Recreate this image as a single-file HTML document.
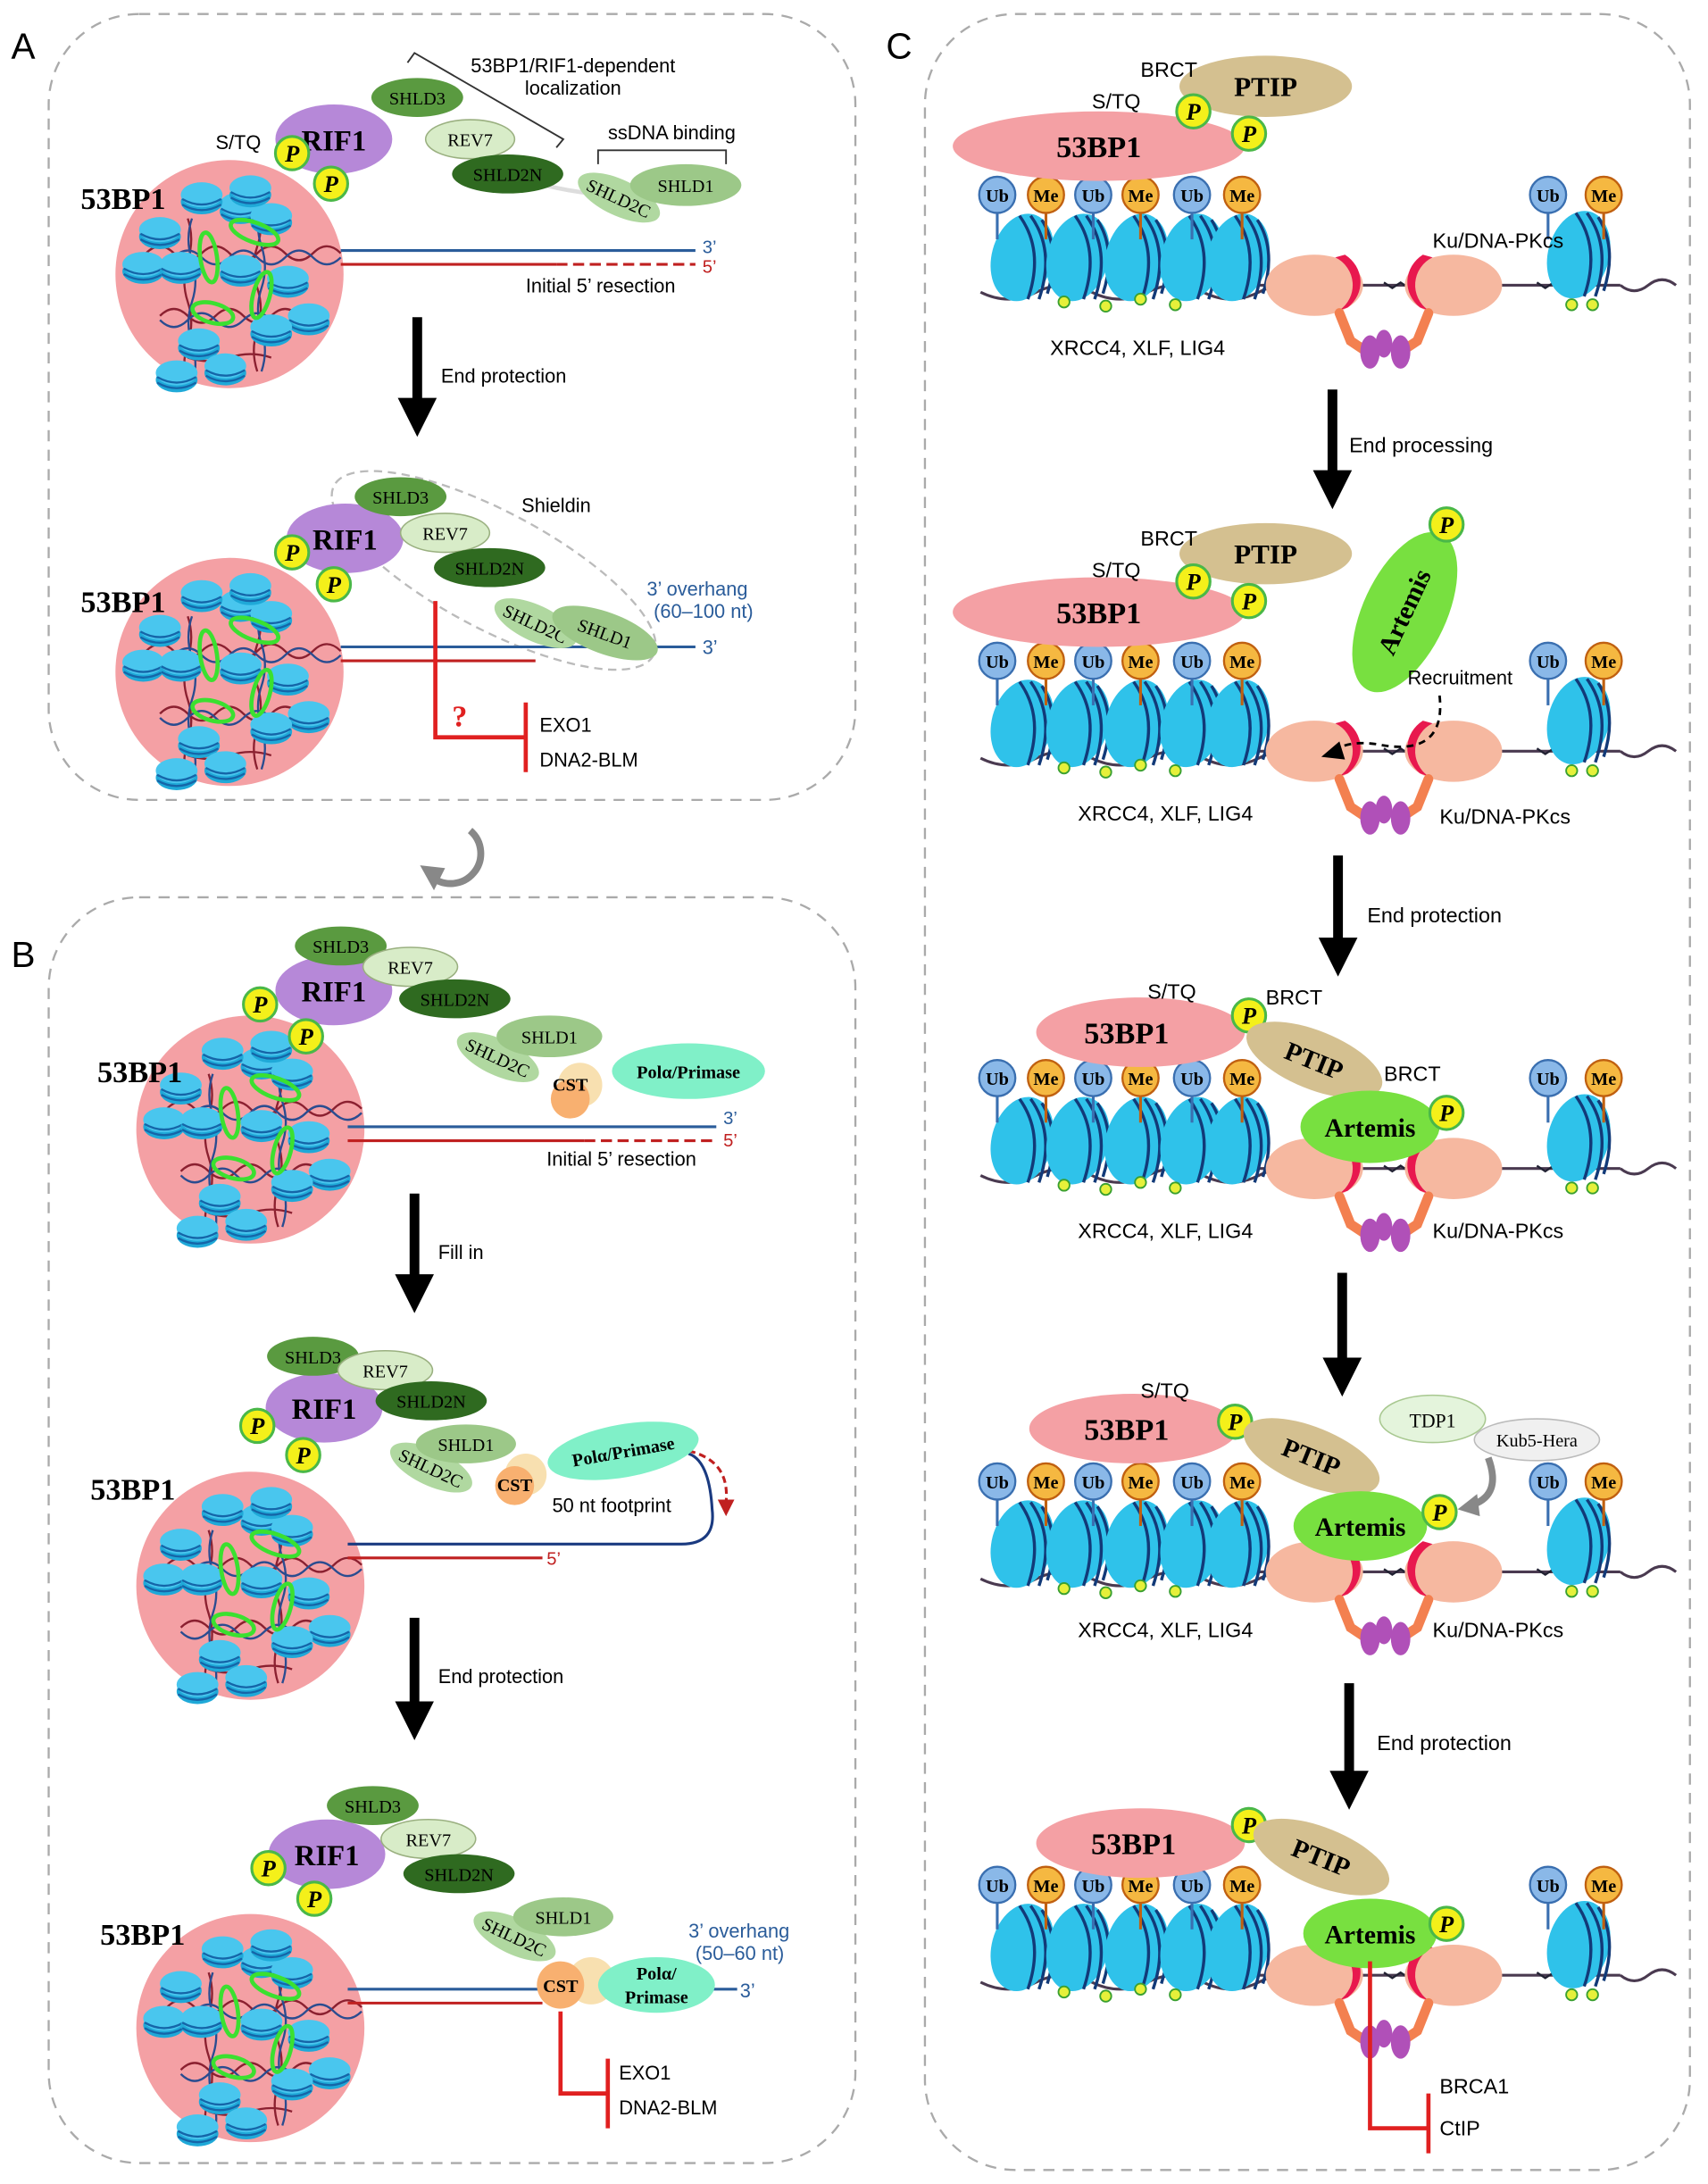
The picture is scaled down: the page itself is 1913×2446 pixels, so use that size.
<!DOCTYPE html>
<html><head><meta charset="utf-8"><style>
html,body{margin:0;padding:0;background:#fff}
svg{display:block}
text{font-family:"Liberation Sans",sans-serif}
.s{font-family:"Liberation Serif",serif}
</style></head><body>
<svg width="1913" height="2446" viewBox="0 0 1228 1570" xmlns="http://www.w3.org/2000/svg">
<defs>
<g id="nu">
 <ellipse cx="0" cy="3" rx="15" ry="9" fill="#1fa9d8"/>
 <ellipse cx="0" cy="-2" rx="15" ry="9" fill="#49c6ee"/>
 <path d="M-14,1 Q0,9 14,1 M-14,5 Q0,13 14,5" stroke="#1565a8" stroke-width="1.5" fill="none"/>
</g>
<g id="cl">
 <circle r="82" fill="#f4a0a4"/>
 <path d="M-60,-15 q10,-10 20,0 t20,0 t20,0 t20,0 t20,0 t20,0 t20,0 M-50,30 q10,-10 20,0 t20,0 t20,0 t20,0 t20,0 M-30,-40 q5,15 0,30 t0,30 t0,30 t0,30 M20,-50 q5,15 0,30 t0,30 t0,30 t0,30 M-30,60 q15,5 30,0 t30,0" stroke="#8b2030" stroke-width="1.5" fill="none"/>
 <path d="M-60,-12 q10,10 20,0 t20,0 t20,0 t20,0 t20,0 t20,0 t20,0 M-50,33 q10,10 20,0 t20,0 t20,0 t20,0 t20,0 M-27,-40 q-5,15 0,30 t0,30 t0,30 t0,30 M23,-50 q-5,15 0,30 t0,30 t0,30 t0,30" stroke="#2a4c90" stroke-width="1.5" fill="none"/>
 <use href="#nu" x="8" y="-48"/>
 <use href="#nu" x="-20" y="-55"/>
 <use href="#nu" x="30" y="-40"/>
 <use href="#nu" x="-50" y="-30"/>
 <use href="#nu" x="-62" y="-5"/>
 <use href="#nu" x="-35" y="-5"/>
 <use href="#nu" x="8" y="-3"/>
 <use href="#nu" x="42" y="5"/>
 <use href="#nu" x="57" y="32"/>
 <use href="#nu" x="30" y="40"/>
 <use href="#nu" x="-22" y="50"/>
 <use href="#nu" x="-38" y="73"/>
 <use href="#nu" x="-3" y="68"/>
 <use href="#nu" x="15" y="-60"/>
 <ellipse cx="-15" cy="-12" rx="6" ry="18" fill="none" stroke="#3be030" stroke-width="3" transform="rotate(-8 -15 -12)"/>
 <ellipse cx="18" cy="-30" rx="18" ry="7" fill="none" stroke="#3be030" stroke-width="3" transform="rotate(20 18 -30)"/>
 <ellipse cx="-12" cy="28" rx="15" ry="7" fill="none" stroke="#3be030" stroke-width="3" transform="rotate(15 -12 28)"/>
 <ellipse cx="23" cy="15" rx="6" ry="17" fill="none" stroke="#3be030" stroke-width="3" transform="rotate(15 23 15)"/>
</g>
<g id="P"><circle r="12" fill="#f4f01a" stroke="#4ab848" stroke-width="2"/><text y="6" text-anchor="middle" class="s" font-size="17" font-weight="bold" font-style="italic">P</text></g>
<g id="Ub"><line x1="0" y1="12" x2="0" y2="32" stroke="#3a6fb0" stroke-width="2"/><circle r="13" fill="#8ab8e8" stroke="#3a6fb0" stroke-width="1.5"/><text y="5" text-anchor="middle" class="s" font-size="13" font-weight="bold">Ub</text></g>
<g id="Me"><line x1="0" y1="12" x2="0" y2="32" stroke="#c06010" stroke-width="2"/><circle r="13" fill="#f5b841" stroke="#c06010" stroke-width="1.5"/><text y="5" text-anchor="middle" class="s" font-size="13" font-weight="bold">Me</text></g>
<g id="bn">
 <ellipse rx="22" ry="32" fill="#2fc2ea" transform="rotate(15)"/>
 <path d="M-2,-30 Q16,-5 4,30 M6,-30 Q24,-5 12,30 M14,-27 Q28,-5 18,26" stroke="#123a78" stroke-width="2.2" fill="none"/>
</g>
<g id="crow">
 <path d="M0,5 q20,10 40,0 t40,0 t40,0 t40,0 t40,0 t40,0 M200,0 L460,0 M460,0 q10,8 20,0 t20,0" stroke="#4a3a50" stroke-width="2" fill="none"/>
 <path d="M215,-2 l6,4 l6,-4 l6,4 l6,-4 l6,4 M290,-2 l6,4 l6,-4 l6,4 l6,-4 M400,-2 l6,4 l6,-4 l6,4 l6,-4 l6,4" stroke="#223" stroke-width="1.5" fill="none"/>
 <use href="#bn" x="30" y="-20"/><use href="#bn" x="70" y="-20"/><use href="#bn" x="112" y="-20"/><use href="#bn" x="152" y="-20"/><use href="#bn" x="185" y="-20"/>
 <use href="#bn" x="430" y="-22"/>
 <use href="#Ub" x="12" y="-65"/><use href="#Me" x="47" y="-65"/><use href="#Ub" x="81" y="-65"/><use href="#Me" x="115" y="-65"/><use href="#Ub" x="152" y="-65"/><use href="#Me" x="188" y="-65"/>
 <use href="#Ub" x="408" y="-65"/><use href="#Me" x="448" y="-65"/>
 <g fill="#e6f03a" stroke="#3aa030" stroke-width="1.2"><circle cx="60" cy="12" r="4"/><circle cx="90" cy="15" r="4"/><circle cx="115" cy="10" r="4"/><circle cx="140" cy="14" r="4"/><circle cx="425" cy="14" r="4"/><circle cx="440" cy="14" r="4"/></g>
 <ellipse cx="240" cy="0" rx="35" ry="22" fill="#f6b8a0"/>
 <ellipse cx="340" cy="0" rx="35" ry="22" fill="#f6b8a0"/>
 <path d="M255,-20 A22,22 0 0 1 258,18 L264,16 A26,24 0 0 0 262,-22 Z" fill="#e8184e"/>
 <path d="M325,-20 A22,22 0 0 0 322,18 L316,16 A26,24 0 0 1 318,-22 Z" fill="#e8184e"/>
 <path d="M258,20 l8,20 l15,10 M322,20 l-8,20 l-15,10" stroke="#f38050" stroke-width="7" fill="none" stroke-linecap="round"/>
 <ellipse cx="280" cy="48" rx="7" ry="12" fill="#b050b8"/><ellipse cx="290" cy="42" rx="6" ry="10" fill="#b050b8"/>
 <ellipse cx="302" cy="48" rx="7" ry="12" fill="#b050b8"/>
</g>
<marker id="ah" viewBox="0 0 10 10" refX="5" refY="5" markerWidth="4" markerHeight="4" orient="auto"><path d="M0,0 L10,5 L0,10 Z" fill="#000"/></marker>
</defs>

<g fill="none" stroke="#aaa" stroke-width="1.5" stroke-dasharray="8,6">
 <rect x="35" y="10" width="580" height="565" rx="65"/>
 <rect x="35" y="645" width="580" height="910" rx="65"/>
 <rect x="665" y="10" width="550" height="1550" rx="65"/>
</g>
<text x="8" y="42" font-size="26">A</text>
<text x="8" y="695" font-size="26">B</text>
<text x="637" y="42" font-size="26">C</text>

<!-- A1 -->
<use href="#cl" x="165" y="197"/>
<text x="58" y="150" class="s" font-size="22" font-weight="bold">53BP1</text>
<text x="155" y="107" font-size="14">S/TQ</text>
<path d="M245,180 H500" stroke="#2a5c9a" stroke-width="2"/>
<path d="M245,190 H400" stroke="#c02020" stroke-width="2"/>
<path d="M400,190 H500" stroke="#c02020" stroke-width="2" stroke-dasharray="8,4"/>
<text x="505" y="182" font-size="13" fill="#2a5c9a">3’</text>
<text x="505" y="196" font-size="13" fill="#c02020">5’</text>
<text x="378" y="210" font-size="14">Initial 5’ resection</text>
<path d="M380,130 Q450,150 500,130" stroke="#ddd" stroke-width="3" fill="none"/>
<ellipse cx="240" cy="100" rx="42" ry="25" fill="#b688d8"/><text x="240" y="108" text-anchor="middle" class="s" font-size="21" font-weight="bold">RIF1</text>
<use href="#P" x="210" y="110"/><use href="#P" x="238" y="132"/>
<ellipse cx="300" cy="70" rx="33" ry="14" fill="#5a9a40"/><text x="300" y="75" text-anchor="middle" class="s" font-size="13">SHLD3</text>
<ellipse cx="338" cy="100" rx="32" ry="14" fill="#d8ecc8" stroke="#9ab080"/><text x="338" y="105" text-anchor="middle" class="s" font-size="13">REV7</text>
<ellipse cx="365" cy="125" rx="40" ry="14" fill="#2f6a20"/><text x="365" y="130" text-anchor="middle" class="s" font-size="13">SHLD2N</text>
<ellipse cx="445" cy="142" rx="32" ry="13" fill="#b0d8a0" transform="rotate(25 445 142)"/><text x="445" y="147" text-anchor="middle" class="s" font-size="13" transform="rotate(25 445 142)">SHLD2C</text>
<ellipse cx="493" cy="133" rx="40" ry="15" fill="#9cc888"/><text x="493" y="138" text-anchor="middle" class="s" font-size="13">SHLD1</text>
<path d="M293,45 L298,38 L405,100 L400,106" stroke="#333" stroke-width="1.2" fill="none"/>
<text x="412" y="52" text-anchor="middle" font-size="14">53BP1/RIF1-dependent</text>
<text x="412" y="68" text-anchor="middle" font-size="14">localization</text>
<text x="483" y="100" text-anchor="middle" font-size="14">ssDNA binding</text>
<path d="M430,118 V108 H522 V118" stroke="#333" stroke-width="1.2" fill="none"/>
<line x1="300" y1="228" x2="300" y2="300" stroke="#000" stroke-width="7" marker-end="url(#ah)"/>
<text x="317" y="275" font-size="14">End protection</text>

<!-- A2 -->
<use href="#cl" x="165" y="483"/>
<text x="58" y="440" class="s" font-size="22" font-weight="bold">53BP1</text>
<ellipse cx="355" cy="410" rx="130" ry="42" fill="none" stroke="#bbb" stroke-width="1.5" stroke-dasharray="6,4" transform="rotate(28 355 410)"/>
<path d="M245,465 H500" stroke="#2a5c9a" stroke-width="2"/>
<path d="M245,475 H385" stroke="#c02020" stroke-width="2"/>
<text x="505" y="470" font-size="14" fill="#2a5c9a">3’</text>
<text x="465" y="428" font-size="14" fill="#2a5c9a">3’ overhang</text>
<text x="470" y="444" font-size="14" fill="#2a5c9a">(60–100 nt)</text>
<ellipse cx="248" cy="387" rx="42" ry="25" fill="#b688d8"/><text x="248" y="395" text-anchor="middle" class="s" font-size="21" font-weight="bold">RIF1</text>
<use href="#P" x="210" y="397"/><use href="#P" x="240" y="420"/>
<ellipse cx="288" cy="357" rx="33" ry="14" fill="#5a9a40"/><text x="288" y="362" text-anchor="middle" class="s" font-size="13">SHLD3</text>
<ellipse cx="320" cy="383" rx="32" ry="14" fill="#d8ecc8" stroke="#9ab080"/><text x="320" y="388" text-anchor="middle" class="s" font-size="13">REV7</text>
<ellipse cx="352" cy="408" rx="40" ry="14" fill="#2f6a20"/><text x="352" y="413" text-anchor="middle" class="s" font-size="13">SHLD2N</text>
<ellipse cx="385" cy="448" rx="32" ry="13" fill="#b0d8a0" transform="rotate(25 385 448)"/><text x="385" y="453" text-anchor="middle" class="s" font-size="13" transform="rotate(25 385 448)">SHLD2C</text>
<ellipse cx="435" cy="455" rx="40" ry="15" fill="#9cc888" transform="rotate(20 435 455)"/><text x="435" y="460" text-anchor="middle" class="s" font-size="13" transform="rotate(20 435 455)">SHLD1</text>
<text x="375" y="368" font-size="14">Shieldin</text>
<path d="M313,432 V530 H378 M378,505 V555" stroke="#e02020" stroke-width="3" fill="none"/>
<text x="325" y="522" class="s" font-size="22" font-weight="bold" fill="#e02020">?</text>
<text x="388" y="526" font-size="14">EXO1</text>
<text x="388" y="551" font-size="14">DNA2-BLM</text>
<path d="M338,597 A18,18 0 1 1 310,630" stroke="#888" stroke-width="5" fill="none"/>
<path d="M302,622 L312,640 L320,624 Z" fill="#888"/>

<!-- B1 -->
<use href="#cl" x="180" y="812"/>
<text x="70" y="778" class="s" font-size="22" font-weight="bold">53BP1</text>
<path d="M250,810 H515" stroke="#2a5c9a" stroke-width="2"/>
<path d="M250,820 H420" stroke="#c02020" stroke-width="2"/>
<path d="M420,820 H515" stroke="#c02020" stroke-width="2" stroke-dasharray="8,4"/>
<text x="520" y="808" font-size="13" fill="#2a5c9a">3’</text>
<text x="520" y="824" font-size="13" fill="#c02020">5’</text>
<text x="393" y="838" font-size="14">Initial 5’ resection</text>
<ellipse cx="240" cy="712" rx="42" ry="25" fill="#b688d8"/><text x="240" y="720" text-anchor="middle" class="s" font-size="21" font-weight="bold">RIF1</text>
<use href="#P" x="187" y="722"/><use href="#P" x="220" y="745"/>
<ellipse cx="245" cy="680" rx="33" ry="14" fill="#5a9a40"/><text x="245" y="685" text-anchor="middle" class="s" font-size="13">SHLD3</text>
<ellipse cx="295" cy="695" rx="34" ry="14" fill="#d8ecc8" stroke="#9ab080"/><text x="295" y="700" text-anchor="middle" class="s" font-size="13">REV7</text>
<ellipse cx="327" cy="718" rx="40" ry="14" fill="#2f6a20"/><text x="327" y="723" text-anchor="middle" class="s" font-size="13">SHLD2N</text>
<ellipse cx="358" cy="760" rx="32" ry="13" fill="#b0d8a0" transform="rotate(25 358 760)"/><text x="358" y="765" text-anchor="middle" class="s" font-size="13" transform="rotate(25 358 760)">SHLD2C</text>
<ellipse cx="395" cy="745" rx="38" ry="15" fill="#9cc888"/><text x="395" y="750" text-anchor="middle" class="s" font-size="13">SHLD1</text>
<circle cx="417" cy="780" r="16" fill="#f8e0b0"/><circle cx="410" cy="790" r="14" fill="#f8b070"/><text x="410" y="784" text-anchor="middle" class="s" font-size="13" font-weight="bold">CST</text>
<ellipse cx="495" cy="770" rx="55" ry="20" fill="#80f0c8"/><text x="495" y="775" text-anchor="middle" class="s" font-size="13" font-weight="bold">Polα/Primase</text>
<line x1="298" y1="858" x2="298" y2="930" stroke="#000" stroke-width="7" marker-end="url(#ah)"/>
<text x="315" y="905" font-size="14">Fill in</text>

<!-- B2 -->
<use href="#cl" x="180" y="1140"/>
<text x="65" y="1078" class="s" font-size="22" font-weight="bold">53BP1</text>
<path d="M250,1110 H490 Q515,1110 512,1085 Q510,1050 495,1045" stroke="#1a3a80" stroke-width="2" fill="none"/>
<path d="M250,1120 H390" stroke="#c02020" stroke-width="2"/>
<text x="393" y="1125" font-size="13" fill="#c02020">5’</text>
<path d="M495,1043 Q525,1050 522,1080" stroke="#c02020" stroke-width="2" stroke-dasharray="5,3" fill="none"/>
<path d="M516,1078 L522,1090 L528,1078Z" fill="#c02020"/>
<ellipse cx="233" cy="1012" rx="42" ry="25" fill="#b688d8"/><text x="233" y="1020" text-anchor="middle" class="s" font-size="21" font-weight="bold">RIF1</text>
<use href="#P" x="185" y="1025"/><use href="#P" x="218" y="1046"/>
<ellipse cx="225" cy="975" rx="33" ry="14" fill="#5a9a40"/><text x="225" y="980" text-anchor="middle" class="s" font-size="13">SHLD3</text>
<ellipse cx="277" cy="985" rx="34" ry="14" fill="#d8ecc8" stroke="#9ab080"/><text x="277" y="990" text-anchor="middle" class="s" font-size="13">REV7</text>
<ellipse cx="310" cy="1007" rx="40" ry="14" fill="#2f6a20"/><text x="310" y="1012" text-anchor="middle" class="s" font-size="13">SHLD2N</text>
<ellipse cx="310" cy="1055" rx="32" ry="13" fill="#b0d8a0" transform="rotate(25 310 1055)"/><text x="310" y="1060" text-anchor="middle" class="s" font-size="13" transform="rotate(25 310 1055)">SHLD2C</text>
<ellipse cx="335" cy="1038" rx="36" ry="14" fill="#9cc888"/><text x="335" y="1043" text-anchor="middle" class="s" font-size="13">SHLD1</text>
<circle cx="378" cy="1060" r="15" fill="#f8e0b0"/><circle cx="370" cy="1068" r="14" fill="#f8b070"/><text x="370" y="1072" text-anchor="middle" class="s" font-size="13" font-weight="bold">CST</text>
<ellipse cx="448" cy="1043" rx="55" ry="19" fill="#80f0c8" transform="rotate(-10 448 1043)"/><text x="448" y="1048" text-anchor="middle" class="s" font-size="13" font-weight="bold" transform="rotate(-10 448 1043)">Polα/Primase</text>
<text x="397" y="1087" font-size="14">50 nt footprint</text>
<line x1="298" y1="1163" x2="298" y2="1237" stroke="#000" stroke-width="7" marker-end="url(#ah)"/>
<text x="315" y="1210" font-size="14">End protection</text>

<!-- B3 -->
<use href="#cl" x="180" y="1458"/>
<text x="72" y="1398" class="s" font-size="22" font-weight="bold">53BP1</text>
<path d="M250,1430 H530" stroke="#2a5c9a" stroke-width="2"/>
<path d="M250,1440 H390" stroke="#c02020" stroke-width="2"/>
<text x="532" y="1436" font-size="14" fill="#2a5c9a">3’</text>
<text x="495" y="1393" font-size="14" fill="#2a5c9a">3’ overhang</text>
<text x="500" y="1409" font-size="14" fill="#2a5c9a">(50–60 nt)</text>
<ellipse cx="235" cy="1333" rx="42" ry="25" fill="#b688d8"/><text x="235" y="1341" text-anchor="middle" class="s" font-size="21" font-weight="bold">RIF1</text>
<use href="#P" x="193" y="1343"/><use href="#P" x="226" y="1365"/>
<ellipse cx="268" cy="1298" rx="33" ry="14" fill="#5a9a40"/><text x="268" y="1303" text-anchor="middle" class="s" font-size="13">SHLD3</text>
<ellipse cx="308" cy="1322" rx="34" ry="14" fill="#d8ecc8" stroke="#9ab080"/><text x="308" y="1327" text-anchor="middle" class="s" font-size="13">REV7</text>
<ellipse cx="330" cy="1347" rx="40" ry="14" fill="#2f6a20"/><text x="330" y="1352" text-anchor="middle" class="s" font-size="13">SHLD2N</text>
<ellipse cx="370" cy="1392" rx="32" ry="13" fill="#b0d8a0" transform="rotate(25 370 1392)"/><text x="370" y="1397" text-anchor="middle" class="s" font-size="13" transform="rotate(25 370 1392)">SHLD2C</text>
<ellipse cx="405" cy="1378" rx="36" ry="14" fill="#9cc888"/><text x="405" y="1383" text-anchor="middle" class="s" font-size="13">SHLD1</text>
<circle cx="425" cy="1424" r="17" fill="#f8e0b0"/><circle cx="403" cy="1427" r="17" fill="#f8b070"/><text x="403" y="1432" text-anchor="middle" class="s" font-size="13" font-weight="bold">CST</text>
<ellipse cx="472" cy="1427" rx="42" ry="20" fill="#80f0c8"/><text x="472" y="1423" text-anchor="middle" class="s" font-size="13" font-weight="bold">Polα/</text><text x="472" y="1440" text-anchor="middle" class="s" font-size="13" font-weight="bold">Primase</text>
<path d="M403,1446 V1505 H437 M437,1480 V1530" stroke="#e02020" stroke-width="3" fill="none"/>
<text x="445" y="1495" font-size="14">EXO1</text>
<text x="445" y="1520" font-size="14">DNA2-BLM</text>

<!-- Panel C row1 -->
<use href="#crow" x="705" y="205"/>
<ellipse cx="790" cy="105" rx="105" ry="25" fill="#f4a0a4"/><text x="790" y="113" text-anchor="middle" class="s" font-size="22" font-weight="bold">53BP1</text>
<ellipse cx="910" cy="62" rx="62" ry="22" fill="#d4c090"/><text x="910" y="69" text-anchor="middle" class="s" font-size="20" font-weight="bold">PTIP</text>
<use href="#P" x="858" y="80"/><use href="#P" x="898" y="96"/>
<text x="820" y="55" font-size="15">BRCT</text>
<text x="785" y="78" font-size="15">S/TQ</text>
<text x="1030" y="178" font-size="15">Ku/DNA-PKcs</text>
<text x="755" y="255" font-size="15">XRCC4, XLF, LIG4</text>
<line x1="958" y1="280" x2="958" y2="352" stroke="#000" stroke-width="7" marker-end="url(#ah)"/>
<text x="970" y="325" font-size="15">End processing</text>

<!-- row2 -->
<use href="#crow" x="705" y="540"/>
<ellipse cx="790" cy="440" rx="105" ry="25" fill="#f4a0a4"/><text x="790" y="448" text-anchor="middle" class="s" font-size="22" font-weight="bold">53BP1</text>
<ellipse cx="910" cy="398" rx="62" ry="22" fill="#d4c090"/><text x="910" y="405" text-anchor="middle" class="s" font-size="20" font-weight="bold">PTIP</text>
<use href="#P" x="858" y="418"/><use href="#P" x="898" y="432"/>
<text x="820" y="392" font-size="15">BRCT</text>
<text x="785" y="415" font-size="15">S/TQ</text>
<ellipse cx="1010" cy="440" rx="30" ry="62" fill="#78e040" transform="rotate(25 1010 440)"/><text x="1010" y="446" text-anchor="middle" class="s" font-size="19" font-weight="bold" transform="rotate(-65 1010 440)">Artemis</text>
<use href="#P" x="1040" y="377"/>
<text x="1012" y="492" font-size="14">Recruitment</text>
<path d="M1035,500 Q1040,545 990,535 Q970,532 958,540" stroke="#000" stroke-width="1.8" stroke-dasharray="5,4" fill="none"/>
<path d="M963,533 L950,544 L967,546 Z" fill="#000"/>
<text x="775" y="590" font-size="15">XRCC4, XLF, LIG4</text>
<text x="1035" y="592" font-size="15">Ku/DNA-PKcs</text>
<line x1="962" y1="615" x2="962" y2="688" stroke="#000" stroke-width="7" marker-end="url(#ah)"/>
<text x="983" y="663" font-size="15">End protection</text>

<!-- row3 -->
<use href="#crow" x="705" y="840"/>
<ellipse cx="820" cy="742" rx="75" ry="25" fill="#f4a0a4"/><text x="810" y="750" text-anchor="middle" class="s" font-size="22" font-weight="bold">53BP1</text>
<use href="#P" x="898" y="730"/>
<ellipse cx="945" cy="762" rx="52" ry="21" fill="#d4c090" transform="rotate(22 945 762)"/><text x="945" y="769" text-anchor="middle" class="s" font-size="19" font-weight="bold" transform="rotate(22 945 762)">PTIP</text>
<ellipse cx="985" cy="810" rx="50" ry="26" fill="#78e040"/><text x="985" y="817" text-anchor="middle" class="s" font-size="19" font-weight="bold">Artemis</text>
<use href="#P" x="1040" y="800"/>
<text x="825" y="718" font-size="15">S/TQ</text>
<text x="910" y="722" font-size="15">BRCT</text>
<text x="995" y="777" font-size="15">BRCT</text>
<text x="775" y="890" font-size="15">XRCC4, XLF, LIG4</text>
<text x="1030" y="890" font-size="15">Ku/DNA-PKcs</text>
<line x1="965" y1="915" x2="965" y2="990" stroke="#000" stroke-width="7" marker-end="url(#ah)"/>

<!-- row4 -->
<use href="#crow" x="705" y="1130"/>
<ellipse cx="815" cy="1027" rx="75" ry="25" fill="#f4a0a4"/><text x="810" y="1035" text-anchor="middle" class="s" font-size="22" font-weight="bold">53BP1</text>
<use href="#P" x="888" y="1022"/>
<ellipse cx="943" cy="1047" rx="52" ry="21" fill="#d4c090" transform="rotate(22 943 1047)"/><text x="943" y="1054" text-anchor="middle" class="s" font-size="19" font-weight="bold" transform="rotate(22 943 1047)">PTIP</text>
<ellipse cx="978" cy="1097" rx="48" ry="25" fill="#78e040"/><text x="978" y="1104" text-anchor="middle" class="s" font-size="19" font-weight="bold">Artemis</text>
<use href="#P" x="1035" y="1087"/>
<text x="820" y="1005" font-size="15">S/TQ</text>
<ellipse cx="1030" cy="1020" rx="38" ry="17" fill="#e4f4dc" stroke="#a8c890"/><text x="1030" y="1026" text-anchor="middle" class="s" font-size="14">TDP1</text>
<ellipse cx="1105" cy="1035" rx="45" ry="15" fill="#f0f0f0" stroke="#bbb"/><text x="1105" y="1040" text-anchor="middle" class="s" font-size="13">Kub5-Hera</text>
<path d="M1070,1048 Q1080,1075 1058,1082" stroke="#888" stroke-width="5" fill="none"/>
<path d="M1062,1074 L1048,1085 L1064,1090Z" fill="#888"/>
<text x="775" y="1177" font-size="15">XRCC4, XLF, LIG4</text>
<text x="1030" y="1177" font-size="15">Ku/DNA-PKcs</text>
<line x1="970" y1="1210" x2="970" y2="1287" stroke="#000" stroke-width="7" marker-end="url(#ah)"/>
<text x="990" y="1258" font-size="15">End protection</text>

<!-- row5 -->
<use href="#crow" x="705" y="1420"/>
<ellipse cx="820" cy="1325" rx="75" ry="25" fill="#f4a0a4"/><text x="815" y="1333" text-anchor="middle" class="s" font-size="22" font-weight="bold">53BP1</text>
<use href="#P" x="898" y="1312"/>
<ellipse cx="950" cy="1335" rx="52" ry="21" fill="#d4c090" transform="rotate(22 950 1335)"/><text x="950" y="1342" text-anchor="middle" class="s" font-size="19" font-weight="bold" transform="rotate(22 950 1335)">PTIP</text>
<ellipse cx="985" cy="1390" rx="48" ry="25" fill="#78e040"/><text x="985" y="1397" text-anchor="middle" class="s" font-size="19" font-weight="bold">Artemis</text>
<use href="#P" x="1040" y="1383"/>
<path d="M985,1410 V1530 H1027 M1027,1505 V1548" stroke="#e02020" stroke-width="3" fill="none"/>
<text x="1035" y="1505" font-size="15">BRCA1</text>
<text x="1035" y="1535" font-size="15">CtIP</text>
</svg>
</body></html>
